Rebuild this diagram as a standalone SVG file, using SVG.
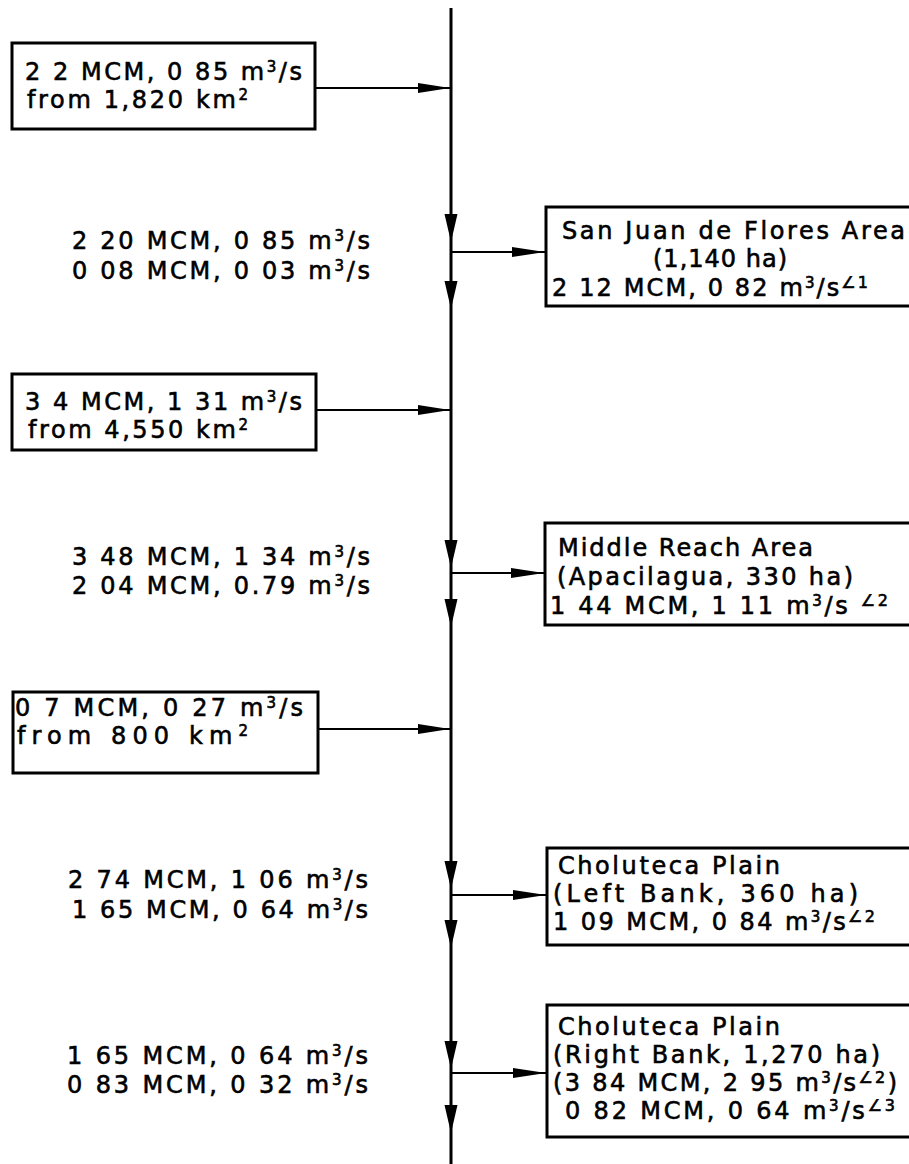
<svg xmlns="http://www.w3.org/2000/svg" width="909" height="1164" viewBox="0 0 909 1164">
<style>
.t { font-family: "DejaVu Sans", "Liberation Sans", sans-serif; font-size: 24px; fill: #000; stroke: #000; stroke-width: 0.6; }
.sp { font-size: 15px; }
.an { font-size: 16px; }
.bx { fill: #fff; stroke: #000; stroke-width: 3; }
.ln { stroke: #000; stroke-width: 2; fill: none; }
.main { stroke: #000; stroke-width: 3; fill: none; }
.ah { fill: #000; }
</style>
<rect width="909" height="1164" fill="#fff"/>
<g id="connectors">
  <line class="main" x1="451" y1="8" x2="451" y2="1164"/>
  <line class="ln" x1="315" y1="88" x2="451" y2="88"/>
  <polygon class="ah" points="450,88 418,83 418,93"/>
  <line class="ln" x1="316" y1="410" x2="451" y2="410"/>
  <polygon class="ah" points="450,410 418,405 418,415"/>
  <line class="ln" x1="318" y1="729" x2="451" y2="729"/>
  <polygon class="ah" points="450,729 418,724 418,734"/>
  <line class="ln" x1="451" y1="252" x2="546" y2="252"/>
  <polygon class="ah" points="545,252 512,247 512,257"/>
  <line class="ln" x1="451" y1="573" x2="545" y2="573"/>
  <polygon class="ah" points="544,573 511,568 511,578"/>
  <line class="ln" x1="451" y1="895" x2="547" y2="895"/>
  <polygon class="ah" points="546,895 513,890 513,900"/>
  <line class="ln" x1="451" y1="1073" x2="547" y2="1073"/>
  <polygon class="ah" points="546,1073 513,1068 513,1078"/>
  <polygon class="ah" points="451,242 444.5,214 457.5,214"/>
  <polygon class="ah" points="451,309 444.5,281 457.5,281"/>
  <polygon class="ah" points="451,568 444.5,540 457.5,540"/>
  <polygon class="ah" points="451,627 444.5,599 457.5,599"/>
  <polygon class="ah" points="451,889 444.5,861 457.5,861"/>
  <polygon class="ah" points="451,948 444.5,920 457.5,920"/>
  <polygon class="ah" points="451,1069 444.5,1041 457.5,1041"/>
  <polygon class="ah" points="451,1133 444.5,1105 457.5,1105"/>
</g>
<g id="inflow1">
  <rect class="bx" x="12" y="43" width="303" height="86"/>
  <text class="t" x="25" y="80" textLength="277">2 2 MCM, 0 85 m<tspan class="sp" dy="-8">3</tspan><tspan dy="8">/s</tspan></text>
  <text class="t" x="27" y="108" textLength="221">from 1,820 km<tspan class="sp" dy="-8">2</tspan></text>
</g>
<g id="flow1">
  <text class="t" x="72" y="249" textLength="298">2 20 MCM, 0 85 m<tspan class="sp" dy="-8">3</tspan><tspan dy="8">/s</tspan></text>
  <text class="t" x="72" y="279" textLength="298">0 08 MCM, 0 03 m<tspan class="sp" dy="-8">3</tspan><tspan dy="8">/s</tspan></text>
</g>
<g id="area1">
  <rect class="bx" x="546" y="207" width="370" height="99"/>
  <text class="t" x="562" y="239" textLength="343">San Juan de Flores Area</text>
  <text class="t" x="653" y="267" textLength="134">(1,140 ha)</text>
  <text class="t" x="552" y="296" textLength="316">2 12 MCM, 0 82 m<tspan class="sp" dy="-8">3</tspan><tspan dy="8">/s</tspan><tspan class="an" dy="-8">∠1</tspan></text>
</g>
<g id="inflow2">
  <rect class="bx" x="12" y="374" width="304" height="76"/>
  <text class="t" x="25" y="410" textLength="277">3 4 MCM, 1 31 m<tspan class="sp" dy="-8">3</tspan><tspan dy="8">/s</tspan></text>
  <text class="t" x="28" y="438" textLength="220">from 4,550 km<tspan class="sp" dy="-8">2</tspan></text>
</g>
<g id="flow2">
  <text class="t" x="72" y="565" textLength="298">3 48 MCM, 1 34 m<tspan class="sp" dy="-8">3</tspan><tspan dy="8">/s</tspan></text>
  <text class="t" x="72" y="594" textLength="298">2 04 MCM, 0.79 m<tspan class="sp" dy="-8">3</tspan><tspan dy="8">/s</tspan></text>
</g>
<g id="area2">
  <rect class="bx" x="545" y="523" width="370" height="102"/>
  <text class="t" x="558" y="556" textLength="255">Middle Reach Area</text>
  <text class="t" x="557" y="585" textLength="296">(Apacilagua, 330 ha)</text>
  <text class="t" x="550" y="614" textLength="338">1 44 MCM, 1 11 m<tspan class="sp" dy="-8">3</tspan><tspan dy="8">/s </tspan><tspan class="an" dy="-8">∠2</tspan></text>
</g>
<g id="inflow3">
  <rect class="bx" x="13" y="692" width="305" height="81"/>
  <text class="t" x="15" y="716" textLength="288">0 7 MCM, 0 27 m<tspan class="sp" dy="-8">3</tspan><tspan dy="8">/s</tspan></text>
  <text class="t" x="17" y="744" textLength="231">from 800 km<tspan class="sp" dy="-8">2</tspan></text>
</g>
<g id="flow3">
  <text class="t" x="68" y="888" textLength="300">2 74 MCM, 1 06 m<tspan class="sp" dy="-8">3</tspan><tspan dy="8">/s</tspan></text>
  <text class="t" x="72" y="918" textLength="296">1 65 MCM, 0 64 m<tspan class="sp" dy="-8">3</tspan><tspan dy="8">/s</tspan></text>
</g>
<g id="area3">
  <rect class="bx" x="547" y="848" width="370" height="97"/>
  <text class="t" x="558" y="874" textLength="222">Choluteca Plain</text>
  <text class="t" x="553" y="902" textLength="305">(Left Bank, 360 ha)</text>
  <text class="t" x="553" y="930" textLength="322">1 09 MCM, 0 84 m<tspan class="sp" dy="-8">3</tspan><tspan dy="8">/s</tspan><tspan class="an" dy="-8">∠2</tspan></text>
</g>
<g id="flow4">
  <text class="t" x="67" y="1064" textLength="301">1 65 MCM, 0 64 m<tspan class="sp" dy="-8">3</tspan><tspan dy="8">/s</tspan></text>
  <text class="t" x="67" y="1093" textLength="301">0 83 MCM, 0 32 m<tspan class="sp" dy="-8">3</tspan><tspan dy="8">/s</tspan></text>
</g>
<g id="area4">
  <rect class="bx" x="547" y="1005" width="370" height="132"/>
  <text class="t" x="558" y="1035" textLength="222">Choluteca Plain</text>
  <text class="t" x="553" y="1063" textLength="327">(Right Bank, 1,270 ha)</text>
  <text class="t" x="553" y="1091" textLength="344">(3 84 MCM, 2 95 m<tspan class="sp" dy="-8">3</tspan><tspan dy="8">/s</tspan><tspan class="an" dy="-8">∠2</tspan><tspan dy="8">)</tspan></text>
  <text class="t" x="565" y="1119" textLength="330">0 82 MCM, 0 64 m<tspan class="sp" dy="-8">3</tspan><tspan dy="8">/s</tspan><tspan class="an" dy="-8">∠3</tspan></text>
</g>
</svg>
